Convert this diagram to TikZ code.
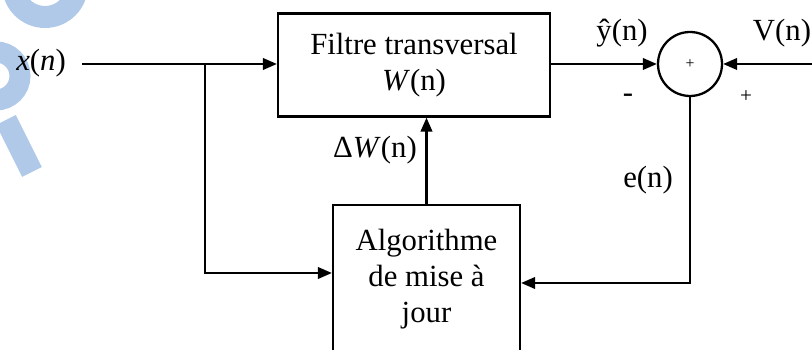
\documentclass[tikz,border=0pt]{standalone}
\usepackage{fontspec}
\setmainfont{Liberation Serif}
\usetikzlibrary{arrows.meta}
\definecolor{filigrane}{RGB}{176,201,233}
\begin{document}
\begin{tikzpicture}[x=0.02cm,y=-0.02cm,
    font=\fontsize{17.5}{20.5}\selectfont,
    bloc/.style={draw,line width=1.3pt,align=center,inner sep=0pt},
    fleche/.style={-{Triangle[length=2.8mm,width=2.3mm]},line width=1.3pt}]
    \useasboundingbox (0,0) rectangle (812,350);

    % Filigrane
    \draw[filigrane,line width=0.44cm] (45,-15) circle[radius=32];
    \draw[filigrane,line width=0.42cm] (-4,76) circle[radius=24];
    \draw[filigrane,line width=0.44cm] (6,120) -- (32,172);

    % Blocs
    \node[bloc,minimum width=5.44cm,minimum height=2.06cm] (filtre) at (414,65) {Filtre transversal\\\textit{W}(n)};
    \node[bloc,minimum width=3.74cm,minimum height=2.96cm] (algo) at (426.5,279) {Algorithme\\de mise à\\jour};
    \node[draw,circle,line width=1.3pt,minimum size=1.28cm,inner sep=0pt] (somme) at (690,64) {\fontsize{9}{9}\selectfont +};

    % Entrees et sorties
    \coordinate (entree) at (82,64);
    \coordinate (noeud) at (205,64);
    \coordinate (sortie) at (812,64);

    % Liaisons
    \draw[fleche] (entree) -- (filtre.west |- entree);
    \draw[fleche] (noeud) |- ([yshift=0.12cm]algo.west);
    \draw[fleche] (algo.north) -- (algo.north |- filtre.south);
    \draw[fleche] (filtre.east |- somme) -- (somme.west);
    \draw[fleche] (sortie) -- (somme.east);
    \draw[fleche] (somme.south) |- ([yshift=-0.08cm]algo.east);

    % Etiquettes
    \node (xn) at (41,63) {\textit{x}(\textit{n})};
    \node (yn) at (622,33) {ŷ(n)};
    \node (vn) at (782,33) {V(n)};
    \node (moins) at (628,98) {-};
    \node (plus) at (746,97) {\fontsize{12}{12}\selectfont +};
    \node (en) at (648,180) {e(n)};
    \node (dwn) at (375,150) {Δ\textit{W}(n)};
\end{tikzpicture}
\end{document}
